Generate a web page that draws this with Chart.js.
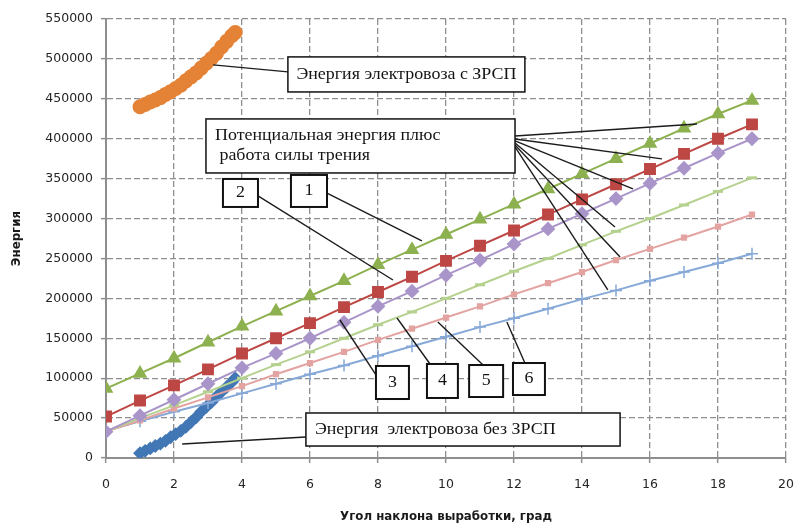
<!DOCTYPE html>
<html>
<head>
<meta charset="utf-8">
<script src="https://cdn.jsdelivr.net/npm/chart.js@4.4.1/dist/chart.umd.min.js"></script>
<style>
  html, body { margin: 0; padding: 0; background: #fff; }
  #wrap { width: 798px; height: 526px; }
</style>
</head>
<body>
<div id="wrap"><canvas id="energy" width="798" height="526"></canvas></div>
<script>
// angle of the working, degrees
const angles = [0, 1, 2, 3, 4, 5, 6, 7, 8, 9, 10, 11, 12, 13, 14, 15, 16, 17, 18, 19];

// potential energy + friction work, curves 1..6
const curve1 = [87000, 106000, 125000, 145000, 165000, 184000, 203000, 222000, 242000, 261000, 280000, 299000, 318000, 337000, 356000, 375000, 394000, 413000, 431000, 448000];
const curve2 = [52000, 72000, 91000, 111000, 131000, 150000, 169000, 189000, 208000, 227000, 247000, 266000, 285000, 305000, 324000, 343000, 362000, 381000, 400000, 418000];
const curve3 = [33000, 53000, 73000, 93000, 113000, 131000, 150000, 170000, 190000, 209000, 229000, 248000, 268000, 287000, 306000, 325000, 344000, 363000, 382000, 400000];
const curve4 = [33000, 50000, 66000, 83000, 100000, 117000, 133000, 150000, 167000, 183000, 200000, 217000, 234000, 250000, 267000, 284000, 300000, 317000, 334000, 351000];
const curve5 = [33000, 47000, 62000, 76000, 90000, 105000, 119000, 133000, 148000, 162000, 176000, 190000, 205000, 219000, 233000, 248000, 262000, 276000, 290000, 305000];
const curve6 = [34000, 46000, 58000, 69000, 81000, 93000, 105000, 116000, 128000, 140000, 152000, 164000, 175000, 187000, 199000, 210000, 222000, 233000, 244000, 256000];

// locomotive energy, with and without ЗРСП
const locoAngles = [1.0, 1.15, 1.3, 1.45, 1.6, 1.75, 1.9, 2.05, 2.2, 2.35, 2.5, 2.65, 2.8, 2.95, 3.1, 3.25, 3.4, 3.55, 3.7, 3.8];
const locoWith = [440000, 443000, 446000, 448500, 451500, 455500, 459000, 463000, 467000, 472500, 477500, 482500, 488500, 494500, 500500, 507000, 515000, 522000, 529000, 533000];
const locoWithout = [6000, 9000, 12000, 15000, 18000, 21500, 26000, 30000, 34000, 39000, 45000, 51000, 58000, 64000, 70000, 77000, 83000, 89000, 95000, 100000];

const xTicksMax = 20;
const yTicksMax = 550000;

function pairs(xs, ys) {
    return xs.map((x, i) => ({x: x, y: ys[i]}));
}

// callout boxes, in data units: [x1, yTop, x2, yBottom]
const boxes = [
    {r: [5.35, 502500, 12.32, 458600], lines: ['Энергия электровоза с ЗРСП'], align: 'center', lw: 1.5},
    {r: [2.94, 424800, 12.03, 357100], lines: ['Потенциальная энергия плюс', ' работа силы трения'], align: 'left', lw: 1.5},
    {r: [5.88, 56400, 15.12, 15000], lines: ['Энергия  электровоза без ЗРСП'], align: 'left', lw: 1.5},
    {r: [3.44, 349600, 4.47, 314500], lines: ['2'], align: 'center', lw: 2},
    {r: [5.44, 354600, 6.50, 314500], lines: ['1'], align: 'center', lw: 2},
    {r: [7.94, 115300, 8.91, 73900], lines: ['3'], align: 'center', lw: 2},
    {r: [9.44, 117800, 10.35, 75200], lines: ['4'], align: 'center', lw: 2},
    {r: [10.68, 116500, 11.68, 76400], lines: ['5'], align: 'center', lw: 2},
    {r: [11.97, 119000, 12.91, 78900], lines: ['6'], align: 'center', lw: 2}
];

// leader lines, in data units: [x1, y1, x2, y2]
const leaders = [
    [3.15, 492500, 5.35, 483700],
    [12.03, 403500, 17.38, 418500],
    [12.03, 399700, 16.35, 374700],
    [12.03, 397200, 15.50, 337100],
    [12.03, 394700, 14.97, 289500],
    [12.03, 392200, 15.12, 251900],
    [12.03, 389700, 14.76, 210500],
    [4.47, 328300, 8.44, 223000],
    [6.50, 332000, 9.29, 271900],
    [7.94, 104000, 6.88, 172900],
    [9.53, 117800, 8.56, 175400],
    [11.09, 116500, 9.76, 170400],
    [12.32, 119000, 11.79, 170400],
    [5.88, 26300, 2.24, 17500]
];

const callouts = {
    id: 'callouts',
    afterDraw(chart) {
        const ctx = chart.ctx;
        const xs = chart.scales.x, ys = chart.scales.y;
        const px = v => xs.getPixelForValue(v);
        const py = v => ys.getPixelForValue(v);
        ctx.save();
        ctx.strokeStyle = '#1c1c1c';
        ctx.lineWidth = 1.4;
        leaders.forEach(l => {
            ctx.beginPath();
            ctx.moveTo(px(l[0]), py(l[1]));
            ctx.lineTo(px(l[2]), py(l[3]));
            ctx.stroke();
        });
        ctx.font = '16px "Liberation Serif"';
        ctx.textBaseline = 'middle';
        boxes.forEach(b => {
            const x1 = px(b.r[0]), y1 = py(b.r[1]), x2 = px(b.r[2]), y2 = py(b.r[3]);
            ctx.fillStyle = '#fff';
            ctx.fillRect(x1, y1, x2 - x1, y2 - y1);
            ctx.lineWidth = b.lw;
            ctx.strokeStyle = '#111';
            ctx.strokeRect(x1, y1, x2 - x1, y2 - y1);
            ctx.fillStyle = '#141414';
            const n = b.lines.length;
            const lh = 20;
            const cy = (y1 + y2) / 2;
            b.lines.forEach((t, i) => {
                const ty = cy + (i - (n - 1) / 2) * lh;
                const w = ctx.measureText(t).width * 1.12;
                const tx = b.align === 'center' ? (x1 + x2) / 2 - w / 2 : x1 + 9;
                ctx.save();
                ctx.translate(tx, ty);
                ctx.scale(1.12, 1);
                ctx.textAlign = 'left';
                ctx.fillText(t, 0, 0);
                ctx.restore();
            });
        });
        ctx.restore();
    }
};

const lineStyle = (color, pointStyle, radius, extra) => Object.assign({
    borderColor: color,
    backgroundColor: color,
    pointBackgroundColor: color,
    pointBorderColor: color,
    pointStyle: pointStyle,
    pointRadius: radius,
    pointHoverRadius: radius,
    borderWidth: 2,
    tension: 0
}, extra || {});

const tickFont = {family: 'DejaVu Sans', size: 12.5};
const titleFont = {family: 'DejaVu Sans', size: 11.8, weight: 'bold'};
const gridColor = '#8e8e8e';

new Chart(document.getElementById('energy').getContext('2d'), {
    type: 'line',
    plugins: [callouts],
    data: {
        datasets: [
            Object.assign({label: '1', data: pairs(angles, curve1)}, lineStyle('#8db14f', 'triangle', 6.5)),
            Object.assign({label: '2', data: pairs(angles, curve2)}, lineStyle('#bd4744', 'rect', 7)),
            Object.assign({label: '3', data: pairs(angles, curve3)}, lineStyle('#a995c9', 'rectRot', 6)),
            Object.assign({label: '4', data: pairs(angles, curve4)}, lineStyle('#b5d18e', 'line', 5, {pointBorderWidth: 3})),
            Object.assign({label: '5', data: pairs(angles, curve5)}, lineStyle('#e3a3a1', 'rect', 3)),
            Object.assign({label: '6', data: pairs(angles, curve6)}, lineStyle('#87a9d8', 'cross', 6, {pointBorderWidth: 1.5})),
            Object.assign({label: 'Энергия электровоза без ЗРСП', data: pairs(locoAngles, locoWithout)}, lineStyle('#4277b5', 'rectRot', 5.5, {showLine: false})),
            Object.assign({label: 'Энергия электровоза с ЗРСП', data: pairs(locoAngles, locoWith)}, lineStyle('#e48236', 'circle', 6.5, {showLine: false}))
        ]
    },
    options: {
        responsive: false,
        animation: false,
        layout: {padding: {left: 0, top: 19, right: 12, bottom: 2}},
        plugins: {
            legend: {display: false},
            tooltip: {enabled: false}
        },
        scales: {
            x: {
                type: 'linear',
                min: 0,
                max: xTicksMax,
                ticks: {stepSize: 2, color: '#262626', font: tickFont, padding: 14, maxRotation: 0},
                grid: {color: gridColor, lineWidth: 1.3, tickLength: 5, tickColor: gridColor, tickWidth: 1.5},
                border: {color: gridColor, width: 2, dash: [6, 3]},
                title: {display: true, text: 'Угол наклона выработки, град', color: '#1a1a1a', font: titleFont, padding: {top: 0, bottom: 0}},
                afterFit: function(scale) {
                    scale.height = 66;
                    scale.paddingLeft = 0;
                    scale.paddingRight = 0;
                }
            },
            y: {
                min: 0,
                max: yTicksMax,
                ticks: {stepSize: 50000, color: '#262626', font: tickFont, padding: 8, callback: v => String(v)},
                grid: {color: gridColor, lineWidth: 1.3, tickLength: 5, tickColor: gridColor, tickWidth: 1.5},
                border: {color: gridColor, width: 2, dash: [6, 3]},
                title: {display: true, text: 'Энергия', color: '#1a1a1a', font: titleFont, padding: {top: 10, bottom: 0}},
                afterFit: function(scale) {
                    scale.width = 106;
                    scale.paddingTop = 0;
                    scale.paddingBottom = 0;
                }
            }
        }
    }
});
</script>
</body>
</html>
